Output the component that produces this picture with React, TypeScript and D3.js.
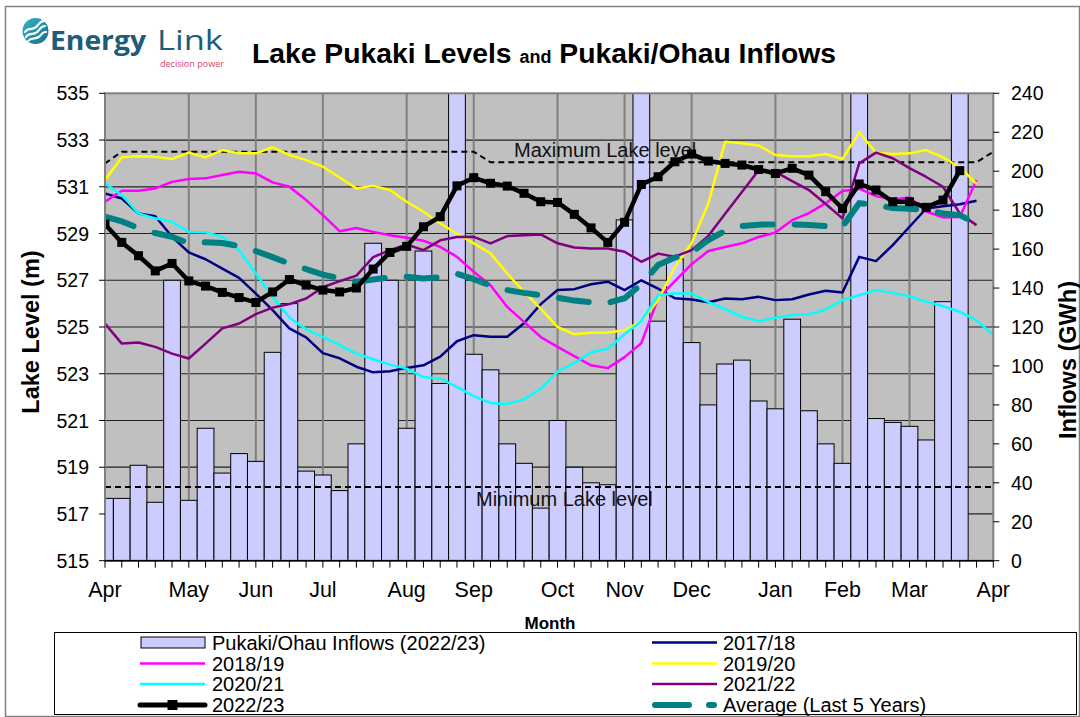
import React from 'react';
import * as d3 from 'd3';

// weekly data, week 0 = start of April
const inflows = [32, 32, 49, 30, 144, 31, 68, 45, 55, 51, 107, 132, 46, 44, 36, 60, 163, 144, 68, 159, 91, 260, 106, 98, 60, 50, 27, 72, 48, 40, 39, 175, 260, 123, 155, 112, 80, 101, 103, 82, 78, 124, 77, 60, 50, 260, 73, 71, 69, 62, 133, 260];

const y1718 = [530.72, 530.5, 529.86, 529.74, 528.86, 528.19, 527.9, 527.5, 527.1, 526.43, 525.72, 524.94, 524.56, 523.88, 523.66, 523.3, 523.06, 523.11, 523.25, 523.36, 523.73, 524.39, 524.65, 524.58, 524.58, 525.16, 525.98, 526.58, 526.62, 526.83, 526.94, 526.58, 527.0, 526.64, 526.23, 526.18, 526.06, 526.22, 526.19, 526.29, 526.15, 526.19, 526.39, 526.55, 526.48, 528.0, 527.82, 528.5, 529.29, 530.07, 530.17, 530.25, 530.4];
const y1819 = [530.36, 530.83, 530.83, 530.93, 531.21, 531.33, 531.36, 531.5, 531.64, 531.57, 531.19, 531.0, 530.43, 529.79, 529.1, 529.24, 529.07, 528.93, 528.82, 528.69, 528.43, 528.0, 527.36, 526.79, 525.86, 525.22, 524.57, 524.15, 523.75, 523.36, 523.24, 523.71, 524.31, 526.23, 526.96, 527.69, 528.25, 528.42, 528.58, 528.85, 529.04, 529.57, 529.87, 530.3, 530.82, 530.92, 530.6, 530.46, 530.54, 529.94, 529.69, 529.71, 531.29];
const y1920 = [531.28, 532.26, 532.31, 532.28, 532.19, 532.46, 532.26, 532.57, 532.43, 532.43, 532.69, 532.36, 532.14, 531.86, 531.4, 530.93, 531.04, 530.86, 530.36, 529.93, 529.43, 529.0, 528.58, 528.15, 527.29, 526.5, 525.79, 525.0, 524.69, 524.75, 524.76, 524.86, 525.25, 526.15, 527.57, 528.58, 530.29, 532.93, 532.86, 532.77, 532.36, 532.31, 532.31, 532.4, 532.19, 533.33, 532.46, 532.4, 532.43, 532.57, 532.26, 531.83, 531.12];
const y2021 = [531.15, 530.64, 529.86, 529.65, 529.5, 529.07, 529.05, 528.86, 528.29, 527.29, 526.29, 525.41, 524.9, 524.58, 524.22, 523.86, 523.62, 523.39, 523.22, 522.86, 522.79, 522.44, 522.04, 521.75, 521.71, 521.91, 522.36, 523.09, 523.45, 523.92, 524.07, 524.69, 525.25, 526.36, 526.43, 526.43, 526.06, 525.76, 525.44, 525.25, 525.4, 525.51, 525.55, 525.74, 526.15, 526.36, 526.58, 526.46, 526.32, 526.08, 525.89, 525.65, 525.29, 524.65];
const y2122 = [525.15, 524.29, 524.34, 524.15, 523.86, 523.65, 524.29, 524.94, 525.15, 525.55, 525.83, 525.98, 526.22, 526.7, 526.96, 527.2, 527.99, 528.29, 528.53, 528.29, 528.71, 528.85, 528.86, 528.58, 528.89, 528.93, 528.96, 528.58, 528.4, 528.36, 528.36, 528.22, 527.79, 528.14, 528.01, 528.29, 528.9, 529.85, 530.78, 531.71, 531.64, 531.24, 530.86, 530.26, 529.65, 532.0, 532.46, 532.22, 531.8, 531.42, 531.0, 529.86, 529.36];
const y2223 = [529.4, 528.62, 528.05, 527.4, 527.72, 526.97, 526.75, 526.48, 526.26, 526.05, 526.5, 527.03, 526.79, 526.58, 526.5, 526.67, 527.48, 528.19, 528.45, 529.29, 529.72, 531.04, 531.39, 531.15, 531.03, 530.72, 530.36, 530.33, 529.82, 529.24, 528.62, 529.48, 531.1, 531.43, 532.07, 532.4, 532.1, 532.0, 531.93, 531.74, 531.57, 531.79, 531.5, 530.79, 530.07, 531.12, 530.86, 530.36, 530.36, 530.12, 530.43, 531.69];
const avg5 = [529.72, 529.52, 529.23, 529.02, 528.86, 528.59, 528.63, 528.59, 528.46, 528.25, 527.99, 527.71, 527.48, 527.24, 527.09, 526.94, 527.03, 527.13, 527.15, 527.08, 527.13, 527.28, 527.05, 526.77, 526.58, 526.46, 526.36, 526.25, 526.13, 526.06, 526.03, 526.23, 526.83, 527.65, 527.97, 528.2, 528.72, 529.12, 529.32, 529.38, 529.39, 529.39, 529.36, 529.32, 529.29, 530.3, 530.22, 530.09, 530.06, 530.0, 529.86, 529.79, 529.43];

// [week, level] breakpoints
const maxLevel: [number, number][] = [[0, 532.0], [1, 532.5], [22, 532.5], [23, 532.05], [52, 532.05], [53, 532.5]];
const minLevel: [number, number][] = [[0, 518.15], [53, 518.15]];

const monthLabels = ['Apr', 'May', 'Jun', 'Jul', 'Aug', 'Sep', 'Oct', 'Nov', 'Dec', 'Jan', 'Feb', 'Mar', 'Apr'];
const monthWeeks = [0, 5, 9, 13, 18, 22, 27, 31, 35, 40, 44, 48, 53];
const levelTicks = [515, 517, 519, 521, 523, 525, 527, 529, 531, 533, 535];
const inflowTicks = [0, 20, 40, 60, 80, 100, 120, 140, 160, 180, 200, 220, 240];

const FONT = 'Liberation Sans, Arial, Helvetica, sans-serif';
const L = 105, R = 993.3, T = 93.3, B = 560.7;

const x = d3.scaleLinear().domain([0, 53]).range([L, R]);
const yL = d3.scaleLinear().domain([515, 535]).range([B, T]);
const yR = d3.scaleLinear().domain([0, 240]).range([B, T]);
const bw = x(1) - x(0);

const lineGen = d3.line<number>().x((_, i) => x(i)).y(d => yL(d));
const refGen = d3.line<[number, number]>().x(d => x(d[0])).y(d => yL(d[1]));

const series = [
  { name: '2017/18', data: y1718, color: '#000080' },
  { name: '2018/19', data: y1819, color: '#ff00ff' },
  { name: '2019/20', data: y1920, color: '#ffff00' },
  { name: '2020/21', data: y2021, color: '#00ffff' },
  { name: '2021/22', data: y2122, color: '#800080' },
];

function Legend() {
  const rows = [642.5, 663.5, 684, 705];
  const c1 = 140, c2 = 652, len = 65;
  const txt = (tx: number, ty: number, s: string) => (
    <text x={tx} y={ty} dy="0.35em" fontSize={20} fontFamily={FONT}>{s}</text>
  );
  return (
    <g>
      <rect x={54.5} y={632.5} width={1022} height={82} fill="#fff" stroke="#000" strokeWidth={1} />
      <rect x={c1 + 1} y={rows[0] - 5.5} width={len - 1} height={11} fill="#ccccff" stroke="#000" />
      {txt(212, rows[0], 'Pukaki/Ohau Inflows (2022/23)')}
      <line x1={c1} x2={c1 + len} y1={rows[1]} y2={rows[1]} stroke="#ff00ff" strokeWidth={2.5} />
      {txt(212, rows[1], '2018/19')}
      <line x1={c1} x2={c1 + len} y1={rows[2]} y2={rows[2]} stroke="#00ffff" strokeWidth={2.5} />
      {txt(212, rows[2], '2020/21')}
      <line x1={c1} x2={c1 + len} y1={rows[3]} y2={rows[3]} stroke="#000" strokeWidth={5} strokeLinecap="round" />
      <rect x={c1 + len / 2 - 5} y={rows[3] - 5} width={10} height={10} fill="#000" />
      {txt(212, rows[3], '2022/23')}

      <line x1={c2} x2={c2 + len} y1={rows[0]} y2={rows[0]} stroke="#000080" strokeWidth={2.5} />
      {txt(723, rows[0], '2017/18')}
      <line x1={c2} x2={c2 + len} y1={rows[1]} y2={rows[1]} stroke="#ffff00" strokeWidth={2.5} />
      {txt(723, rows[1], '2019/20')}
      <line x1={c2} x2={c2 + len} y1={rows[2]} y2={rows[2]} stroke="#800080" strokeWidth={2.5} />
      {txt(723, rows[2], '2021/22')}
      <line x1={c2 + 3} x2={c2 + len - 3} y1={rows[3]} y2={rows[3]} stroke="#008080" strokeWidth={6}
        strokeLinecap="round" strokeDasharray="34 20" />
      {txt(723, rows[3], 'Average (Last 5 Years)')}
    </g>
  );
}

function Logo() {
  return (
    <g>
      <defs>
        <linearGradient id="lg" x1="0" y1="0" x2="1" y2="1">
          <stop offset="0" stopColor="#35b3c8" />
          <stop offset="1" stopColor="#12708c" />
        </linearGradient>
      </defs>
      <circle cx={35.5} cy={31} r={13} fill="url(#lg)" />
      <path d="M26 37 C30 31 34 37 39 30 C41 27 43 26 45 26" fill="none" stroke="#fff" strokeWidth={2.2} strokeLinecap="round" />
      <path d="M25 32 C29 26 33 32 38 25 C40 22 42 21 44 21" fill="none" stroke="#fff" strokeWidth={2.2} strokeLinecap="round" />
      <path d="M28 41 C32 36 36 41 41 35 C42 33 44 32 46 32" fill="none" stroke="#fff" strokeWidth={2} strokeLinecap="round" />
      <text x={50} y={50} fontFamily="Open Sans, sans-serif" fontWeight={700} fontSize={27} fill="#1b5d7a"
        textLength={96} lengthAdjust="spacingAndGlyphs">Energy</text>
      <text x={157} y={50} fontFamily="Open Sans, sans-serif" fontWeight={400} fontSize={27} fill="#1b5d7a"
        textLength={66} lengthAdjust="spacingAndGlyphs">Link</text>
      <text x={160} y={66.5} fontFamily="Open Sans, sans-serif" fontSize={9} fill="#d6456e"
        textLength={64} lengthAdjust="spacingAndGlyphs">decision power</text>
    </g>
  );
}

export default function App() {
  const black = lineGen(y2223) || '';
  return (
    <svg width={1080} height={717} style={{ position: 'absolute', left: 0, top: 0, background: '#fff' }} fontFamily={FONT}>
      <defs>
        <clipPath id="plot">
          <rect x={L} y={T} width={R - L} height={B - T} />
        </clipPath>
      </defs>
      <rect x={5.5} y={6.5} width={1074} height={710} fill="#fff" stroke="#808080" strokeWidth={1.5} />
      <Logo />
      <text x={252} y={63} fontSize={28.3} fontWeight="bold" fill="#000">
        Lake Pukaki Levels <tspan fontSize={18}>and</tspan> Pukaki/Ohau Inflows
      </text>

      {/* plot area */}
      <rect x={L} y={T} width={R - L} height={B - T} fill="#c0c0c0" />
      {levelTicks.slice(1, -1).map(t => (
        <line key={t} x1={L} x2={R} y1={yL(t)} y2={yL(t)} stroke="#222" strokeWidth={1.2} />
      ))}
      {monthWeeks.slice(1, -1).map(w => (
        <line key={w} x1={x(w)} x2={x(w)} y1={T} y2={B} stroke="#808080" strokeWidth={2} />
      ))}

      <g clipPath="url(#plot)">
        {inflows.map((v, i) => (
          <rect key={i} x={x(i) - bw / 2} y={yR(v)} width={bw} height={B - yR(v)}
            fill="#ccccff" stroke="#000" strokeWidth={1} />
        ))}
      </g>

      <path d={refGen(maxLevel) || ''} fill="none" stroke="#000" strokeWidth={2} strokeDasharray="6 4" />
      <path d={refGen(minLevel) || ''} fill="none" stroke="#000" strokeWidth={2} strokeDasharray="6 4" />
      <text x={514} y={157} fontSize={20} fill="#111">Maximum Lake level</text>
      <text x={476} y={506} fontSize={20} fill="#111">Minimum Lake level</text>

      <g clipPath="url(#plot)">
        {series.map(s => (
          <path key={s.name} d={lineGen(s.data) || ''} fill="none" stroke={s.color} strokeWidth={2.5}
            strokeLinejoin="round" />
        ))}
        <path d={lineGen(avg5) || ''} fill="none" stroke="#008080" strokeWidth={6} strokeLinecap="round"
          strokeDasharray="30 22" />
        <path d={black} fill="none" stroke="#000" strokeWidth={4.5} strokeLinejoin="round" />
        {y2223.map((v, i) => (
          <rect key={i} x={x(i) - 4.5} y={yL(v) - 4.5} width={9} height={9} fill="#000" />
        ))}
      </g>

      <rect x={L} y={T} width={R - L} height={B - T} fill="none" stroke="#808080" strokeWidth={2} />
      <line x1={L} x2={R} y1={B} y2={B} stroke="#000" strokeWidth={1.5} />

      {/* left axis */}
      {levelTicks.map(t => (
        <g key={t}>
          <line x1={L - 6} x2={L} y1={yL(t)} y2={yL(t)} stroke="#000" />
          <text x={89} y={yL(t)} dy="0.36em" textAnchor="end" fontSize={19.5}>{t}</text>
        </g>
      ))}
      {/* right axis */}
      {inflowTicks.map(t => (
        <g key={t}>
          <line x1={R} x2={R + 6} y1={yR(t)} y2={yR(t)} stroke="#000" />
          <text x={1011} y={yR(t)} dy="0.36em" fontSize={19.5}>{t}</text>
        </g>
      ))}
      {/* bottom axis */}
      {d3.range(0, 54).map(w => (
        <line key={w} x1={x(w)} x2={x(w)} y1={B} y2={B + 7} stroke="#000" />
      ))}
      {monthLabels.map((m, i) => (
        <text key={i} x={x(monthWeeks[i])} y={597} textAnchor="middle" fontSize={21.5}>{m}</text>
      ))}

      <text transform="translate(39,332) rotate(-90)" textAnchor="middle" fontSize={23.5} fontWeight="bold">Lake Level (m)</text>
      <text transform="translate(1076,360) rotate(-90)" textAnchor="middle" fontSize={23.5} fontWeight="bold">Inflows (GWh)</text>
      <text x={550} y={629} textAnchor="middle" fontSize={17} fontWeight="bold">Month</text>

      <Legend />
    </svg>
  );
}
